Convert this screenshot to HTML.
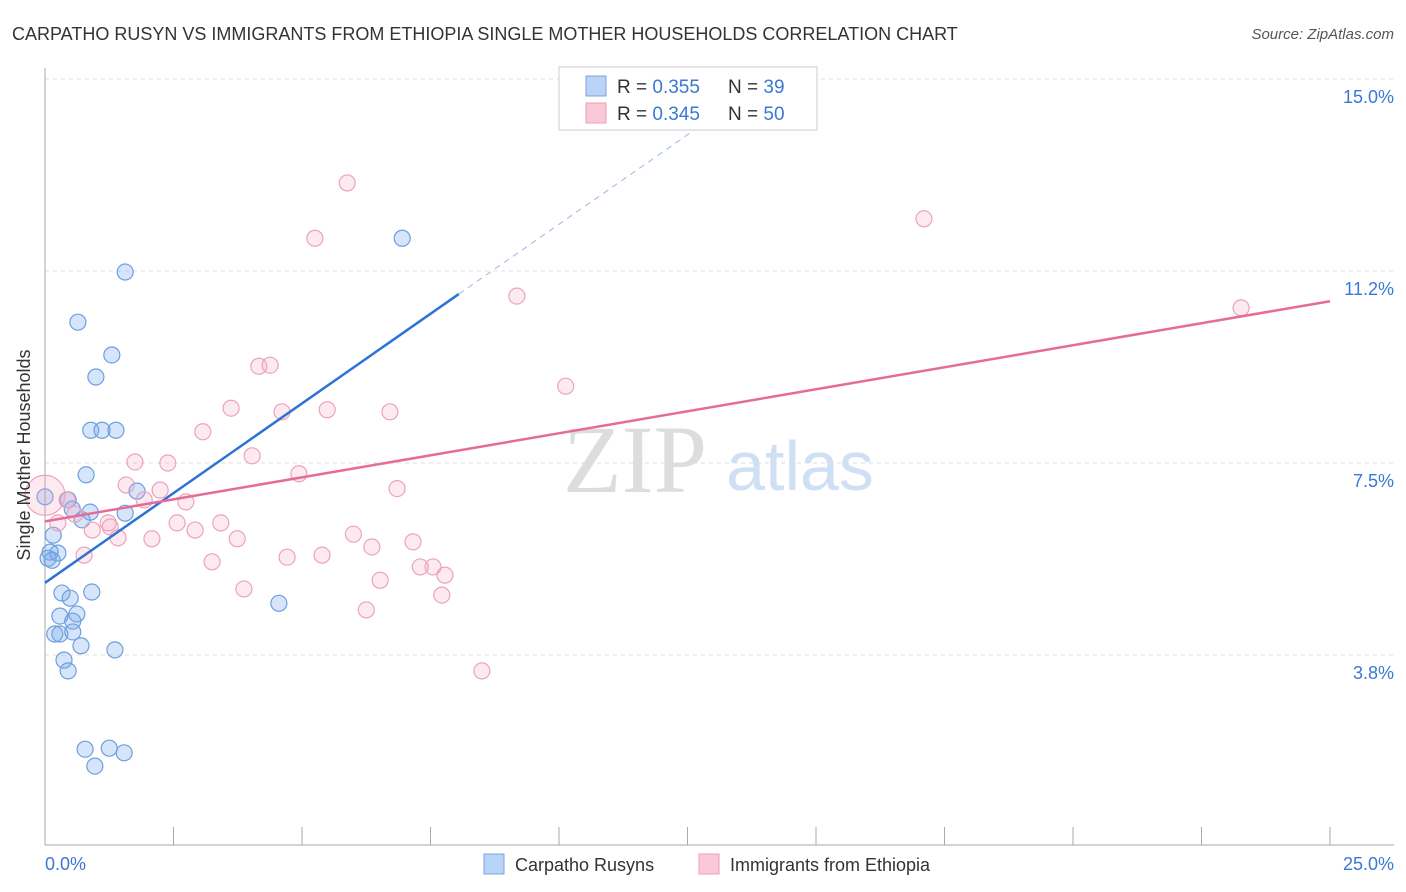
<!DOCTYPE html>
<html><head><meta charset="utf-8">
<style>
body{margin:0;background:#fff;font-family:"Liberation Sans",sans-serif;}
#wrap{position:relative;width:1406px;height:892px;overflow:hidden;}
</style></head>
<body>
<div id="wrap">
<svg id="chart" width="1406" height="892" xmlns="http://www.w3.org/2000/svg">
<text x="12" y="40" font-size="18" fill="#333">CARPATHO RUSYN VS IMMIGRANTS FROM ETHIOPIA SINGLE MOTHER HOUSEHOLDS CORRELATION CHART</text>
<text x="1394" y="39" font-size="15" fill="#555" text-anchor="end" font-style="italic">Source: ZipAtlas.com</text>
<text x="635" y="492" font-size="96" fill="#ddd" text-anchor="middle" font-family="Liberation Serif, serif">ZIP</text>
<text x="800" y="490" font-size="70" fill="#cfe0f5" text-anchor="middle">atlas</text>
<g id="grid"></g><g id="marks"></g>
<text x="30" y="455" font-size="18" fill="#333" text-anchor="middle" transform="rotate(-90 30 455)">Single Mother Households</text>
<text x="45" y="870" font-size="18" fill="#3a78d4">0.0%</text>
<text x="1394" y="870" font-size="18" fill="#3a78d4" text-anchor="end">25.0%</text>
<g>
<rect x="559" y="67" width="258" height="63" fill="#fff" stroke="#ccc"/>
<rect x="586" y="76" width="20" height="20" fill="#b9d3f5" stroke="#7aa6e0"/>
<rect x="586" y="103" width="20" height="20" fill="#f9c9d8" stroke="#eaa0b8"/>
<text x="617" y="93" font-size="19" fill="#333">R = <tspan fill="#3a78d4">0.355</tspan></text>
<text x="728" y="93" font-size="19" fill="#333">N = <tspan fill="#3a78d4">39</tspan></text>
<text x="617" y="120" font-size="19" fill="#333">R = <tspan fill="#3a78d4">0.345</tspan></text>
<text x="728" y="120" font-size="19" fill="#333">N = <tspan fill="#3a78d4">50</tspan></text>
</g>
<g>
<rect x="484" y="854" width="20" height="20" fill="#b9d3f5" stroke="#7aa6e0"/>
<text x="515" y="871" font-size="18" fill="#333">Carpatho Rusyns</text>
<rect x="699" y="854" width="20" height="20" fill="#f9c9d8" stroke="#eaa0b8"/>
<text x="730" y="871" font-size="18" fill="#333">Immigrants from Ethiopia</text>
</g>
</svg></div>
<script>
const yTicks=[3.75,7.5,11.25,15];
const yTickLabels=["3.8%","7.5%","11.2%","15.0%"];
const xTicks=[0,2.5,5,7.5,10,12.5,15,17.5,20,22.5,25];
const blueX=[0,0.06,0.1,0.25,0.16,1.56,0.64,1.3,0.99,0.89,1.38,0.8,0.45,0.88,0.72,1.56,1.79,0.33,0.49,0.91,0.29,0.62,0.54,0.19,0.29,0.54,0.7,1.36,0.37,0.45,0.78,1.25,1.54,0.97,6.95,4.55,1.11,0.53,0.14];
const blueY=[6.84,5.64,5.76,5.74,6.09,11.23,10.25,9.61,9.18,8.14,8.14,7.27,6.78,6.54,6.39,6.52,6.95,4.96,4.86,4.98,4.51,4.55,4.41,4.16,4.16,4.2,3.93,3.85,3.65,3.44,1.91,1.93,1.84,1.58,11.89,4.76,8.14,6.6,5.6];
const pinkX=[0,0.25,0.43,0.58,0.76,0.92,1.23,1.42,1.58,1.75,1.93,2.08,2.39,2.57,2.74,2.92,3.07,3.25,3.42,3.62,3.74,3.87,4.03,4.16,4.38,4.61,4.71,4.94,5.25,5.39,5.49,5.88,6.0,6.25,6.36,6.52,6.71,6.85,7.16,7.3,7.55,7.78,7.72,8.5,9.18,10.13,17.1,23.27,1.27,2.24];
const pinkY=[6.87,6.33,6.78,6.5,5.7,6.19,6.33,6.04,7.07,7.52,6.78,6.02,7.5,6.33,6.74,6.19,8.11,5.57,6.33,8.57,6.02,5.04,7.64,9.39,9.41,8.5,5.66,7.29,11.89,5.7,8.54,12.97,6.11,4.63,5.86,5.21,8.5,7.0,5.96,5.47,5.47,5.31,4.92,3.44,10.76,9.0,12.27,10.53,6.25,6.97];
const blueLine=[0,5.16,8.05,10.8];
const blueDash=[8.05,10.8,13.2,14.4];
const pinkLine=[0,6.36,25,10.66];
const X=v=>45+v*51.4, Y=v=>847-v*51.2;
const NS="http://www.w3.org/2000/svg";
function mk(p,t,a){const e=document.createElementNS(NS,t);for(const k in a)e.setAttribute(k,a[k]);p.appendChild(e);return e;}
const g=document.getElementById('grid'),m=document.getElementById('marks');
yTicks.forEach((v,i)=>{
 const l=mk(g,'line',{x1:45,x2:1394,y1:Y(v),y2:Y(v),stroke:'#ddd','stroke-dasharray':'4,4'});
 
 
 const t=mk(g,'text',{x:1394,y:Y(v)+24,'font-size':18,fill:'#3a78d4','text-anchor':'end'});t.textContent=yTickLabels[i];
 
 
});
const topLine=mk(g,'line',{x1:45,x2:1394,y1:Y(15),y2:Y(15),stroke:'#ddd','stroke-dasharray':'4,4'});


const ax=mk(g,'line',{x1:45,x2:45,y1:68,y2:845,stroke:'#aaa'});


const bx=mk(g,'line',{x1:45,x2:1394,y1:845,y2:845,stroke:'#aaa'});


xTicks.forEach(v=>{const t=mk(g,'line',{x1:X(v),x2:X(v),y1:827,y2:845,stroke:'#aaa'});
 
 });
blueX.forEach((v,i)=>{const c=mk(m,'circle',{cx:X(v),cy:Y(blueY[i]),r:8,fill:'rgba(120,170,235,0.3)',stroke:'#6d9fe0','stroke-width':1.2});
 
 });
pinkX.forEach((v,i)=>{const c=mk(m,'circle',{cx:X(v),cy:Y(pinkY[i]),r:i==0?20:8,fill:'rgba(245,160,190,0.22)',stroke:'#eba3bc','stroke-width':1.2});
 
 });
const bl=mk(m,'line',{x1:X(blueLine[0]),y1:Y(blueLine[1]),x2:X(blueLine[2]),y2:Y(blueLine[3]),stroke:'#2f72d6','stroke-width':2.5});


const bd=mk(m,'line',{x1:X(blueDash[0]),y1:Y(blueDash[1]),x2:X(blueDash[2]),y2:Y(blueDash[3]),stroke:'#9bb8e0','stroke-width':1,'stroke-dasharray':'6,5'});


const pl=mk(m,'line',{x1:X(pinkLine[0]),y1:Y(pinkLine[1]),x2:X(pinkLine[2]),y2:Y(pinkLine[3]),stroke:'#e56b98','stroke-width':2.5});


</script>
</body></html>
